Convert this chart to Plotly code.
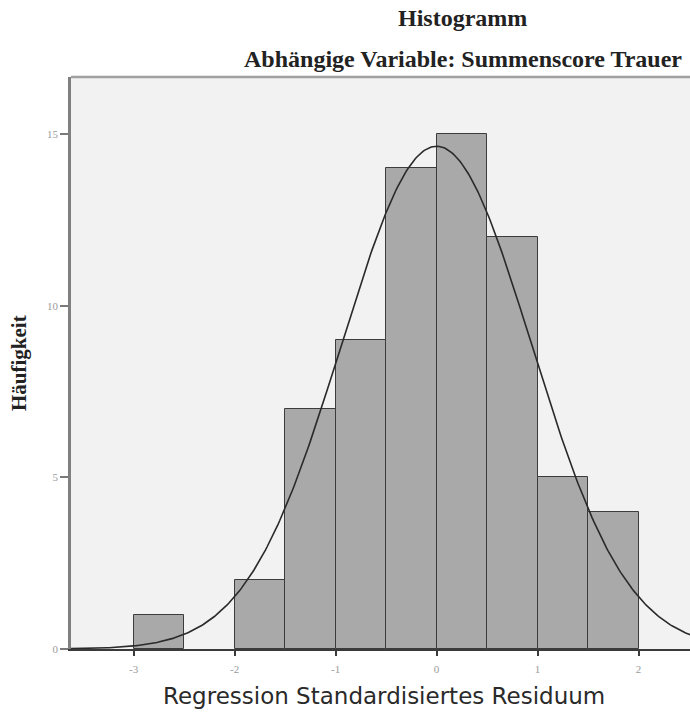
import numpy as np
import plotly.graph_objects as go

# Histogram of standardized regression residuals (bin width 0.5)
bin_starts = [-3.0, -2.0, -1.5, -1.0, -0.5, 0.0, 0.5, 1.0, 1.5]
counts = [1, 2, 7, 9, 14, 15, 12, 5, 4]
bin_width = 0.5

# Normal curve parameters of the residuals
resid_mean = 0.0
resid_sd = 0.94
n_obs = sum(counts)

x_ticks = [-3, -2, -1, 0, 1, 2]
y_ticks = [0, 5, 10, 15]

centers = [b + bin_width / 2 for b in bin_starts]

xs = np.linspace(-3.7, 2.6, 400)
density = np.exp(-0.5 * ((xs - resid_mean) / resid_sd) ** 2) / (resid_sd * np.sqrt(2 * np.pi))
curve = density * n_obs * bin_width

fig = go.Figure()
fig.add_trace(go.Bar(
    x=centers, y=counts, width=bin_width,
    marker=dict(color="#a9a9a9", line=dict(color="#3c3c3c", width=1)),
    hoverinfo="x+y", showlegend=False,
))
fig.add_trace(go.Scatter(
    x=xs, y=curve, mode="lines",
    line=dict(color="#2a2a2a", width=1.6),
    hoverinfo="skip", showlegend=False,
))

serif = "Liberation Serif"

fig.update_layout(
    width=690, height=717,
    margin=dict(l=71, r=0, t=77, b=68),
    paper_bgcolor="white",
    plot_bgcolor="#f2f2f2",
    bargap=0,
    xaxis=dict(
        range=[-3.62, 2.51], tickvals=x_ticks,
        ticktext=[str(v) for v in x_ticks],
        showgrid=False, zeroline=False,
        showline=True, linecolor="#3a3a3a", linewidth=1.5,
        ticks="outside", ticklen=5, tickcolor="#3a3a3a", tickwidth=1.5,
        ticklabelstandoff=4,
        tickfont=dict(family=serif, size=11, color="#9a9a9a"),
    ),
    yaxis=dict(
        range=[0, 16.66], tickvals=y_ticks,
        showgrid=False, zeroline=False,
        showline=True, linecolor="#808080", linewidth=2.5,
        ticks="outside", ticklen=8, tickcolor="#7a7a7a", tickwidth=1.5,
        tickfont=dict(family=serif, size=11, color="#9a9a9a"),
    ),
    shapes=[dict(
        type="line", xref="paper", yref="paper",
        x0=0, x1=1, y0=1, y1=1,
        line=dict(color="#a0a0a0", width=2.5),
    )],
    annotations=[
        dict(text="<b>Histogramm</b>", xref="paper", yref="paper",
             x=0.633, y=1.103, xanchor="center", yanchor="middle",
             showarrow=False, font=dict(family=serif, size=24, color="#222222")),
        dict(text="<b>Abhängige Variable: Summenscore Trauer</b>", xref="paper", yref="paper",
             x=0.633, y=1.031, xanchor="center", yanchor="middle",
             showarrow=False, font=dict(family=serif, size=24, color="#222222")),
        dict(text="<b>Häufigkeit</b>", xref="paper", yref="paper",
             x=-0.084, y=0.5, xanchor="center", yanchor="middle", textangle=-90,
             showarrow=False, font=dict(family=serif, size=21, color="#222222")),
        dict(text="Regression Standardisiertes Residuum", xref="paper", yref="paper",
             x=0.505, y=-0.083, xanchor="center", yanchor="middle",
             showarrow=False, font=dict(family="DejaVu Sans", size=23, color="#2a2a2a")),
    ],
)

fig.write_html("out.html")
